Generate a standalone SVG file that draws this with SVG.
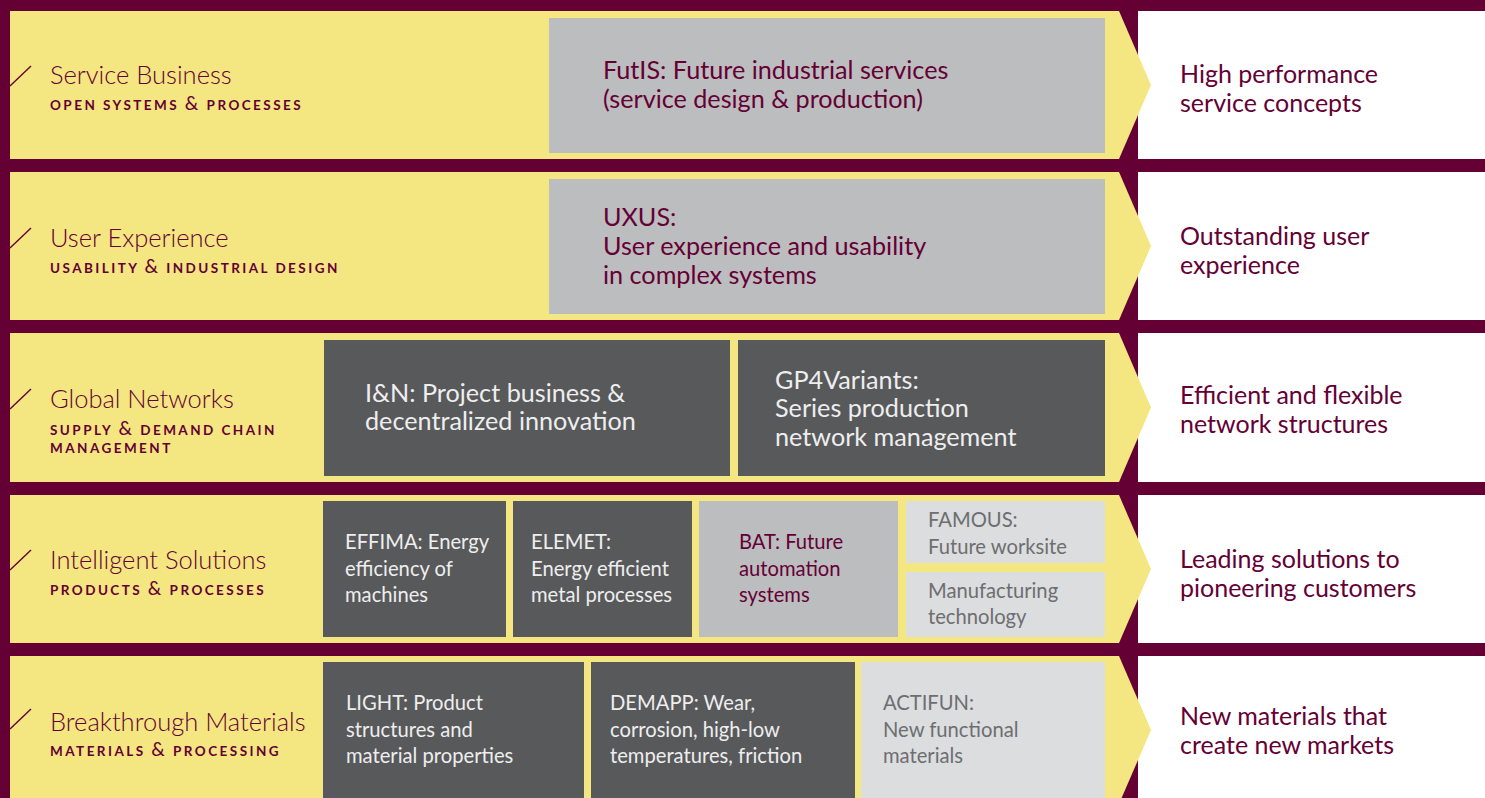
<svg xmlns="http://www.w3.org/2000/svg" width="1485" height="798" viewBox="0 0 1485 798">
  <style>
    .band { fill: #F4E680; }
    .goal { fill: #FFFFFF; }
    .lite { fill: #BCBDBF; }
    .dark { fill: #58595B; }
    .pale { fill: #DCDDDF; }
    .slash { stroke: #650035; stroke-width: 1.4; fill: none; }
    text { font-family: Lato, "Open Sans", "Liberation Sans", sans-serif; }
    .title { font-size: 25.5px; font-weight: 300; fill: #650035; }
    .sub { font-size: 13.5px; font-weight: 700; letter-spacing: 2.45px; fill: #650035; }
    .amp { font-size: 19px; font-weight: 400; letter-spacing: 2.45px; }
    .goalTxt { font-size: 25px; fill: #650035; }
    .big { font-size: 25.2px; }
    .small { font-size: 20.2px; }
    .onDark { fill: #EEEEEE; }
    .onLite { fill: #650035; }
    .onPale { fill: #6D6E70; }
  </style>

  <!-- background -->
  <rect x="0" y="0" width="1485" height="798" fill="#650035"/>

  <!-- row 1 : Service Business -->
  <g id="row-service-business">
    <rect class="goal" x="1138" y="11" width="347" height="148"/>
    <polygon class="band" points="10,11 1119,11 1151,85 1119,159 10,159"/>
    <line class="slash" x1="10" y1="86" x2="31" y2="66"/>
    <text class="title" x="50" y="84">Service Business</text>
    <text class="sub" x="50" y="110">OPEN SYSTEMS <tspan class="amp">&amp;</tspan> PROCESSES</text>
    <g id="node-futis">
      <rect class="lite" x="549" y="18" width="556" height="135"/>
      <text class="big onLite" x="603" y="79">FutIS: Future industrial services<tspan x="603" y="108">(service design &amp; production)</tspan></text>
    </g>
    <text class="goalTxt" x="1180" y="83">High performance<tspan x="1180" y="112">service concepts</tspan></text>
  </g>

  <!-- row 2 : User Experience -->
  <g id="row-user-experience">
    <rect class="goal" x="1138" y="172" width="347" height="148"/>
    <polygon class="band" points="10,172 1119,172 1151,246 1119,320 10,320"/>
    <line class="slash" x1="10" y1="248" x2="31" y2="228"/>
    <text class="title" x="50" y="247">User Experience</text>
    <text class="sub" x="50" y="273">USABILITY <tspan class="amp">&amp;</tspan> INDUSTRIAL DESIGN</text>
    <g id="node-uxus">
      <rect class="lite" x="549" y="179" width="556" height="135"/>
      <text class="big onLite" x="603" y="226">UXUS:<tspan x="603" y="255">User experience and usability</tspan><tspan x="603" y="284">in complex systems</tspan></text>
    </g>
    <text class="goalTxt" x="1180" y="245">Outstanding user<tspan x="1180" y="274">experience</tspan></text>
  </g>

  <!-- row 3 : Global Networks -->
  <g id="row-global-networks">
    <rect class="goal" x="1138" y="333" width="347" height="149"/>
    <polygon class="band" points="10,333 1119,333 1151,407.5 1119,482 10,482"/>
    <line class="slash" x1="10" y1="409" x2="31" y2="389"/>
    <text class="title" x="50" y="408">Global Networks</text>
    <text class="sub" x="50" y="435">SUPPLY <tspan class="amp">&amp;</tspan> DEMAND CHAIN</text>
    <text class="sub" x="50" y="453">MANAGEMENT</text>
    <g id="node-i-and-n">
      <rect class="dark" x="324" y="340" width="406" height="136"/>
      <text class="big onDark" x="365" y="402">I&amp;N: Project business &amp;<tspan x="365" y="430">decentralized innovation</tspan></text>
    </g>
    <g id="node-gp4variants">
      <rect class="dark" x="738" y="340" width="367" height="136"/>
      <text class="big onDark" x="775" y="389">GP4Variants:<tspan x="775" y="417">Series production</tspan><tspan x="775" y="446">network management</tspan></text>
    </g>
    <text class="goalTxt" x="1180" y="404">Efficient and flexible<tspan x="1180" y="433">network structures</tspan></text>
  </g>

  <!-- row 4 : Intelligent Solutions -->
  <g id="row-intelligent-solutions">
    <rect class="goal" x="1138" y="495" width="347" height="148"/>
    <polygon class="band" points="10,495 1119,495 1151,569 1119,643 10,643"/>
    <line class="slash" x1="10" y1="570" x2="31" y2="550"/>
    <text class="title" x="50" y="569">Intelligent Solutions</text>
    <text class="sub" x="50" y="595">PRODUCTS <tspan class="amp">&amp;</tspan> PROCESSES</text>
    <g id="node-effima">
      <rect class="dark" x="323" y="501" width="183" height="136"/>
      <text class="small onDark" x="345" y="549">EFFIMA: Energy<tspan x="345" y="576">efficiency of</tspan><tspan x="345" y="602">machines</tspan></text>
    </g>
    <g id="node-elemet">
      <rect class="dark" x="513" y="501" width="179" height="136"/>
      <text class="small onDark" x="531" y="549">ELEMET:<tspan x="531" y="576">Energy efficient</tspan><tspan x="531" y="602">metal processes</tspan></text>
    </g>
    <g id="node-bat">
      <rect class="lite" x="699" y="501" width="199" height="136"/>
      <text class="small onLite" x="739" y="549">BAT: Future<tspan x="739" y="576">automation</tspan><tspan x="739" y="602">systems</tspan></text>
    </g>
    <g id="node-famous">
      <rect class="pale" x="906" y="501" width="199" height="62"/>
      <text class="small onPale" x="928" y="527">FAMOUS:<tspan x="928" y="554">Future worksite</tspan></text>
    </g>
    <g id="node-manufacturing">
      <rect class="pale" x="906" y="572" width="199" height="65"/>
      <text class="small onPale" x="928" y="598">Manufacturing<tspan x="928" y="624">technology</tspan></text>
    </g>
    <text class="goalTxt" x="1180" y="568">Leading solutions to<tspan x="1180" y="597">pioneering customers</tspan></text>
  </g>

  <!-- row 5 : Breakthrough Materials -->
  <g id="row-breakthrough-materials">
    <rect class="goal" x="1138" y="656" width="347" height="148"/>
    <polygon class="band" points="10,656 1119,656 1151,730 1119,804 10,804"/>
    <line class="slash" x1="10" y1="729" x2="31" y2="709"/>
    <text class="title" x="50" y="731">Breakthrough Materials</text>
    <text class="sub" x="50" y="756">MATERIALS <tspan class="amp">&amp;</tspan> PROCESSING</text>
    <g id="node-light">
      <rect class="dark" x="323" y="662" width="261" height="142"/>
      <text class="small onDark" x="346" y="710">LIGHT: Product<tspan x="346" y="737">structures and</tspan><tspan x="346" y="763">material properties</tspan></text>
    </g>
    <g id="node-demapp">
      <rect class="dark" x="591" y="662" width="264" height="142"/>
      <text class="small onDark" x="610" y="710">DEMAPP: Wear,<tspan x="610" y="737">corrosion, high-low</tspan><tspan x="610" y="763">temperatures, friction</tspan></text>
    </g>
    <g id="node-actifun">
      <rect class="pale" x="861" y="662" width="244" height="142"/>
      <text class="small onPale" x="883" y="710">ACTIFUN:<tspan x="883" y="737">New functional</tspan><tspan x="883" y="763">materials</tspan></text>
    </g>
    <text class="goalTxt" x="1180" y="725">New materials that<tspan x="1180" y="754">create new markets</tspan></text>
  </g>

  <!-- no connectors: the chevrons belong to the row bands -->
  <g id="connectors"/>
</svg>
